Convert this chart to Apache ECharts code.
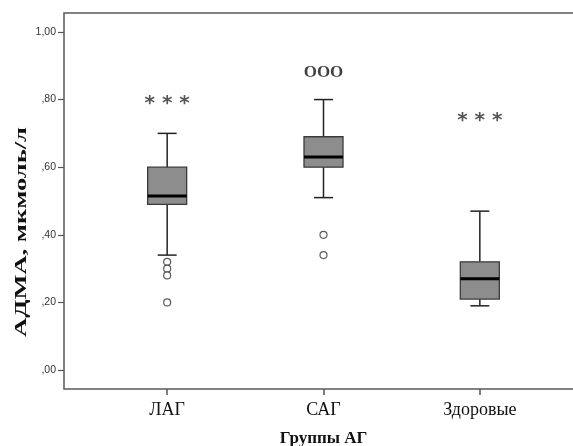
<!DOCTYPE html>
<html>
<head>
<meta charset="utf-8">
<script src="https://cdn.jsdelivr.net/npm/echarts@6/dist/echarts.min.js"></script>
<style>
  html, body { margin: 0; padding: 0; background: #fff; }
  #chart { width: 573px; height: 446px; }
</style>
</head>
<body>
<div id="chart"></div>
<script>
// groups and box statistics
var categories = ['ЛАГ', 'САГ', 'Здоровые'];
var whiskerLow = [0.34, 0.51, 0.19];
var quartile1 = [0.49, 0.60, 0.21];
var median = [0.515, 0.63, 0.27];
var quartile3 = [0.60, 0.69, 0.32];
var whiskerHigh = [0.70, 0.80, 0.47];

// outliers: [group index, value]
var outliers = [[0, 0.32], [0, 0.30], [0, 0.28], [0, 0.20], [1, 0.40], [1, 0.34]];

// significance marks above the boxes
var marks = ['* * *', 'ООО', '* * *'];
var markLevel = [0.806, 0.885, 0.754];

var tickValues = [0, 0.2, 0.4, 0.6, 0.8, 1.0];
var tickLabels = [',00', ',20', ',40', ',60', ',80', '1,00'];

var yMin = -0.056, yMax = 1.056;

var boxData = categories.map(function (c, i) {
  return [i, whiskerLow[i], quartile1[i], median[i], quartile3[i], whiskerHigh[i]];
});

function renderBox(params, api) {
  var i = api.value(0);
  var x = api.coord([i, 0])[0];
  var lo = api.coord([i, api.value(1)])[1];
  var q1 = api.coord([i, api.value(2)])[1];
  var md = api.coord([i, api.value(3)])[1];
  var q3 = api.coord([i, api.value(4)])[1];
  var hi = api.coord([i, api.value(5)])[1];
  var half = 19.5, cap = 9.5;
  var ln = { stroke: '#222', lineWidth: 1.5 };
  return {
    type: 'group',
    children: [
      { type: 'line', shape: { x1: x, y1: hi, x2: x, y2: q3 }, style: ln },
      { type: 'line', shape: { x1: x - cap, y1: hi, x2: x + cap, y2: hi }, style: ln },
      { type: 'line', shape: { x1: x, y1: q1, x2: x, y2: lo }, style: ln },
      { type: 'line', shape: { x1: x - cap, y1: lo, x2: x + cap, y2: lo }, style: ln },
      { type: 'rect', shape: { x: x - half, y: q3, width: half * 2, height: q1 - q3 },
        style: { fill: '#8d8d8d', stroke: '#3a3a3a', lineWidth: 1.3 } },
      { type: 'line', shape: { x1: x - half, y1: md, x2: x + half, y2: md },
        style: { stroke: '#000', lineWidth: 3 } }
    ]
  };
}

var chart = echarts.init(document.getElementById('chart'));
chart.setOption({
  backgroundColor: '#ffffff',
  animation: false,
  grid: [
    { left: 64, top: 13, width: 560, height: 376, outerBoundsMode: 'none',
      show: true, borderColor: '#5a5a5a', borderWidth: 1.5 },
    { left: 89, top: 13, width: 469, height: 376, outerBoundsMode: 'none' }
  ],
  xAxis: [
    { gridIndex: 0, type: 'value', show: false },
    {
      gridIndex: 1,
      type: 'category',
      data: categories,
      boundaryGap: true,
      axisLine: { show: false, onZero: false },
      axisTick: { show: true, alignWithLabel: true, length: 6, lineStyle: { color: '#555', width: 1.5 } },
      axisLabel: { fontFamily: 'Liberation Serif', fontSize: 18, color: '#111', margin: 12 },
      name: 'Группы АГ',
      nameLocation: 'middle',
      nameGap: 41,
      nameTextStyle: { fontFamily: 'Liberation Serif', fontWeight: 'bold', fontSize: 17, color: '#111' }
    }
  ],
  yAxis: [
    {
      gridIndex: 0,
      type: 'value',
      min: yMin,
      max: yMax,
      axisLine: { show: false },
      splitLine: { show: false },
      axisTick: { show: true, customValues: tickValues, length: 6, lineStyle: { color: '#555', width: 1.2 } },
      axisLabel: {
        customValues: tickValues,
        fontFamily: 'Liberation Sans',
        fontSize: 10.5,
        color: '#333',
        margin: 8,
        formatter: function (v) { return tickLabels[tickValues.indexOf(v)]; }
      }
    },
    { gridIndex: 1, type: 'value', min: yMin, max: yMax, show: false }
  ],
  graphic: [{
    type: 'text',
    x: 22,
    y: 232,
    rotation: Math.PI / 2,
    scaleX: 1.56,
    style: {
      text: 'АДМА, мкмоль/л',
      font: 'bold 17px "Liberation Serif"',
      fill: '#111',
      align: 'center',
      verticalAlign: 'middle'
    }
  }],
  series: [
    {
      type: 'custom',
      xAxisIndex: 1,
      yAxisIndex: 1,
      renderItem: renderBox,
      encode: { x: 0, y: [1, 2, 3, 4, 5] },
      data: boxData
    },
    {
      type: 'scatter',
      xAxisIndex: 1,
      yAxisIndex: 1,
      symbol: 'circle',
      symbolSize: 7,
      itemStyle: { color: '#fff', borderColor: '#333', borderWidth: 1.2 },
      data: outliers
    },
    {
      type: 'scatter',
      xAxisIndex: 1,
      yAxisIndex: 1,
      symbolSize: 1,
      itemStyle: { color: 'rgba(0,0,0,0)' },
      data: marks.map(function (m, i) {
        var bold = m === 'ООО';
        return {
          value: [i, markLevel[i]],
          label: {
            show: true,
            position: 'inside',
            formatter: m,
            offset: bold ? [0, 2] : [0, 6],
            fontFamily: bold ? 'Liberation Serif' : 'DejaVu Sans',
            fontWeight: 'bold',
            fontSize: bold ? 17 : 20,
            color: bold ? '#111' : '#2a2a2a'
          }
        };
      })
    }
  ]
});
</script>
</body>
</html>
